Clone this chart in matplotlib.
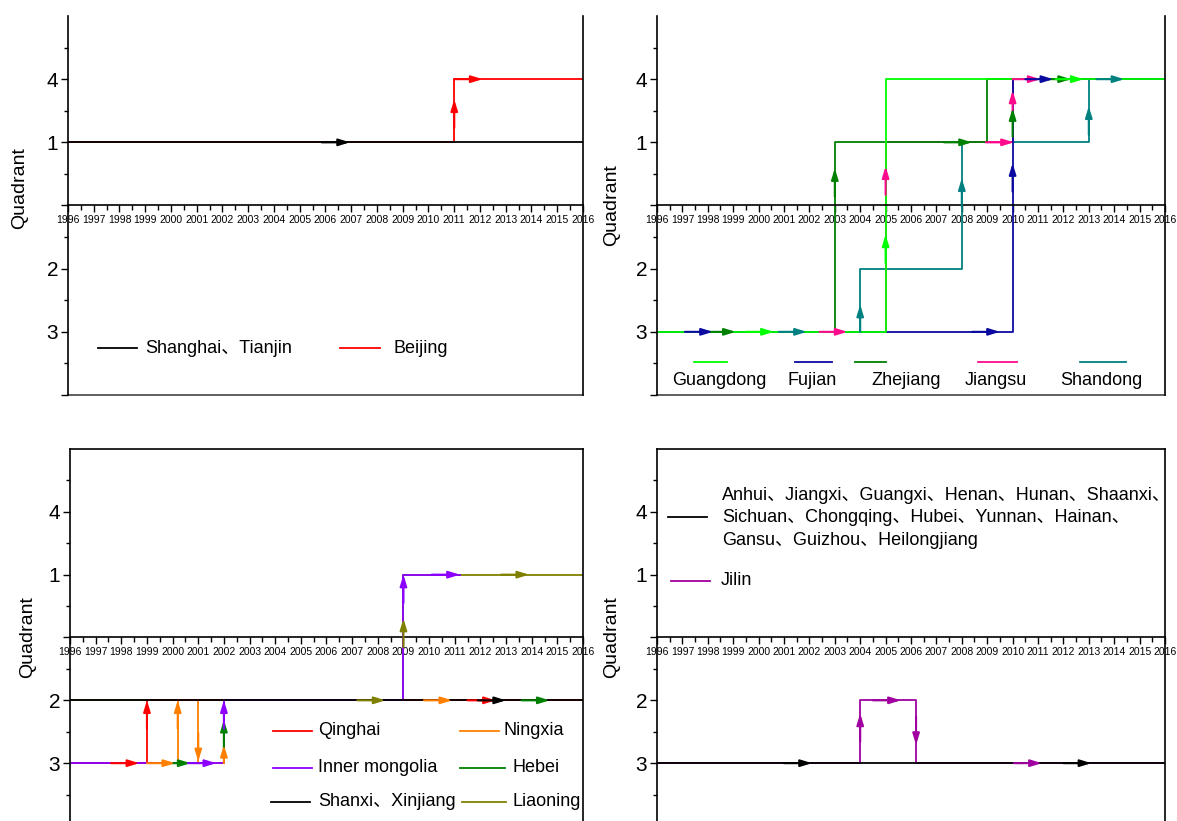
import matplotlib
matplotlib.use('Agg')
import matplotlib.pyplot as plt
from matplotlib.ticker import MultipleLocator

plt.rcParams['font.family'] = ['Liberation Sans', 'Noto Sans CJK SC', 'DejaVu Sans']

# year axis and quadrant -> vertical position on the chart
years = list(range(1996, 2017))
quad_pos = {4: 2, 1: 1, 2: -1, 3: -2}

# ---- panel 1 (top left) ----
shtj_x = [1996, 2016]
shtj_q = [1, 1]
shtj_arrows = [(2006.95, 1, 'r')]
beijing_x = [1996, 2011, 2011, 2016]
beijing_q = [1, 1, 4, 4]
beijing_arrows = [(2011, 1.68, 'u'), (2012.1, 2, 'r')]

# ---- panel 2 (top right) ----
guangdong_x = [1996, 2005, 2005, 2016]
guangdong_q = [3, 3, 4, 4]
guangdong_arrows = [(2000.6, -2, 'r'), (2005, -0.46, 'u'), (2012.8, 2, 'r')]
fujian_x = [1996, 2010, 2010, 2016]
fujian_q = [3, 3, 4, 4]
fujian_arrows = [(1998.2, -2, 'r'), (2009.5, -2, 'r'), (2010, 0.67, 'u'), (2011.6, 2, 'r')]
zhejiang_x = [1996, 2003, 2003, 2009, 2009, 2016]
zhejiang_q = [3, 3, 1, 1, 4, 4]
zhejiang_arrows = [(1999.1, -2, 'r'), (2003, 0.59, 'u'), (2008.4, 1, 'r'),
                   (2010, 1.54, 'u'), (2012.3, 2, 'r')]
jiangsu_x = [1996, 2005, 2005, 2010, 2010, 2016]
jiangsu_q = [3, 3, 1, 1, 4, 4]
jiangsu_arrows = [(2003.5, -2, 'r'), (2005, 0.62, 'u'), (2010.05, 1, 'r'),
                  (2010, 1.82, 'u'), (2011.1, 2, 'r')]
shandong_x = [1996, 2004, 2004, 2008, 2008, 2013, 2013, 2016]
shandong_q = [3, 3, 2, 2, 1, 1, 4, 4]
shandong_arrows = [(2001.9, -2, 'r'), (2004, -1.57, 'u'), (2008, 0.43, 'u'),
                   (2013, 1.57, 'u'), (2014.4, 2, 'r')]

# ---- panel 3 (bottom left) ----
qinghai_x = [1996, 1999, 1999, 2016]
qinghai_q = [3, 3, 2, 2]
qinghai_arrows = [(1998.7, -2, 'r'), (1999, -1.0, 'u'), (2012.6, -1, 'r')]
ningxia_x = [1996, 2000.2, 2000.2, 2001, 2001, 2002, 2002, 2016]
ningxia_q = [3, 3, 2, 2, 3, 3, 2, 2]
ningxia_arrows = [(2000.1, -2, 'r'), (2000.2, -1.0, 'u'), (2001, -1.97, 'd'),
                  (2002, -1.71, 'u'), (2010.9, -1, 'r')]
inner_x = [1996, 2002, 2002, 2009, 2009, 2011.2]
inner_q = [3, 3, 2, 2, 1, 1]
inner_arrows = [(2001.7, -2, 'r'), (2002, -1.0, 'u'), (2009, 1.0, 'u'), (2011.2, 1, 'r')]
hebei_x = [1996, 2002, 2002, 2016]
hebei_q = [3, 3, 2, 2]
hebei_arrows = [(2000.7, -2, 'r'), (2002, -1.31, 'u'), (2014.7, -1, 'r')]
shanxi_x = [1996, 2016]
shanxi_q = [2, 2]
shanxi_arrows = [(2013.0, -1, 'r')]
liaoning_x = [1996, 2009, 2009, 2016]
liaoning_q = [2, 2, 1, 1]
liaoning_arrows = [(2008.3, -1, 'r'), (2009, 0.3, 'u'), (2013.9, 1, 'r')]

# ---- panel 4 (bottom right) ----
others_x = [1996, 2016]
others_q = [3, 3]
others_arrows = [(2002.1, -2, 'r'), (2013.1, -2, 'r')]
jilin_x = [1996, 2004, 2004, 2006.2, 2006.2, 2016]
jilin_q = [3, 3, 2, 2, 3, 3]
jilin_arrows = [(2004, -1.21, 'u'), (2005.6, -1, 'r'), (2006.2, -1.71, 'd'), (2011.15, -2, 'r')]

others_label = ('Anhui、Jiangxi、Guangxi、Henan、Hunan、Shaanxi、\n'
                'Sichuan、Chongqing、Hubei、Yunnan、Hainan、\n'
                'Gansu、Guizhou、Heilongjiang')

W, H = 1177, 821
fig = plt.figure(figsize=(W / 100, H / 100), dpi=100)


def add_axes(x0, x1, top, bottom):
    return fig.add_axes([x0 / W, 1 - bottom / H, (x1 - x0) / W, (bottom - top) / H])


def style(ax, top_row, label_xy):
    ax.set_xlim(1996, 2016)
    ax.set_ylim(-3, 3)
    ax.spines['bottom'].set_position(('data', 0))
    ax.spines['top'].set_visible(not top_row)
    for sp in ax.spines.values():
        sp.set_linewidth(1.2)
    ax.set_xticks(years)
    ax.set_xticklabels([str(y) for y in years])
    ax.xaxis.set_minor_locator(MultipleLocator(0.5))
    ax.tick_params(axis='x', which='major', direction='out', length=5, width=1, pad=2, labelsize=7.5)
    ax.tick_params(axis='x', which='minor', direction='out', length=3.5, width=1)
    ax.set_yticks([-3, -2, -1, 0, 1, 2])
    ax.set_yticklabels(['', '3', '2', '', '1', '4'])
    ax.set_yticks([-2.5, -1.5, -0.5, 0.5, 1.5, 2.5], minor=True)
    ax.tick_params(axis='y', which='major', length=5, width=1, labelsize=15, pad=2)
    ax.tick_params(axis='y', which='minor', length=3, width=1)
    ax.set_ylabel('Quadrant', fontsize=14)
    ax.yaxis.set_label_coords(*label_xy)
    if top_row:
        ax.axhline(-3, color='#444444', lw=1.2, clip_on=False)


def path(ax, xs, qs, color):
    ax.plot(xs, [quad_pos[q] for q in qs], color=color, lw=1.3, zorder=2)


def arrows(ax, arr, color):
    for x, y, d in arr:
        if d == 'r':
            tail = (x - 1.1, y)
        elif d == 'u':
            tail = (x, max(y - 0.45, -2))
        else:
            tail = (x, min(y + 0.45, 2))
        ax.annotate('', xy=(x, y), xytext=tail, zorder=5,
                    arrowprops=dict(arrowstyle='-|>,head_length=0.55,head_width=0.17',
                                    color=color, lw=1.5, shrinkA=0, shrinkB=0,
                                    mutation_scale=12))


def legend_entry(ax, hx0, hx1, hy, color, label, tx, ty, ha='left'):
    ax.plot([hx0, hx1], [hy, hy], transform=ax.transAxes, color=color, lw=1.3, clip_on=False)
    ax.text(tx, ty, label, transform=ax.transAxes, fontsize=13, va='center', ha=ha)


ax_tl = add_axes(68, 583, 16, 395)
ax_tr = add_axes(657, 1165, 16, 395)
ax_bl = add_axes(70, 583, 449, 826)
ax_br = add_axes(657, 1165, 449, 826)

style(ax_tl, True, (-0.078, 0.546))
style(ax_tr, True, (-0.073, 0.5))
style(ax_bl, False, (-0.066, 0.5))
style(ax_br, False, (-0.073, 0.5))

# panel 1
path(ax_tl, beijing_x, beijing_q, '#FF0000')
path(ax_tl, shtj_x, shtj_q, 'black')
arrows(ax_tl, shtj_arrows, 'black')
arrows(ax_tl, beijing_arrows, '#FF0000')
legend_entry(ax_tl, 0.058, 0.134, 0.124, 'black', 'Shanghai、Tianjin', 0.150, 0.124)
legend_entry(ax_tl, 0.528, 0.606, 0.124, '#FF0000', 'Beijing', 0.633, 0.124)

# panel 2
c_gd, c_fj, c_zj, c_js, c_sd = '#00FF00', '#0A0AA0', '#008000', '#FF0A8C', '#008080'
path(ax_tr, shandong_x, shandong_q, c_sd)
path(ax_tr, jiangsu_x, jiangsu_q, c_js)
path(ax_tr, zhejiang_x, zhejiang_q, c_zj)
path(ax_tr, fujian_x, fujian_q, c_fj)
path(ax_tr, guangdong_x, guangdong_q, c_gd)
arrows(ax_tr, shandong_arrows, c_sd)
arrows(ax_tr, jiangsu_arrows, c_js)
arrows(ax_tr, zhejiang_arrows, c_zj)
arrows(ax_tr, fujian_arrows, c_fj)
arrows(ax_tr, guangdong_arrows, c_gd)
legend_entry(ax_tr, 0.073, 0.138, 0.087, c_gd, 'Guangdong', 0.123, 0.037, 'center')
legend_entry(ax_tr, 0.272, 0.344, 0.087, c_fj, 'Fujian', 0.306, 0.037, 'center')
legend_entry(ax_tr, 0.390, 0.451, 0.087, c_zj, 'Zhejiang', 0.490, 0.037, 'center')
legend_entry(ax_tr, 0.632, 0.709, 0.087, c_js, 'Jiangsu', 0.667, 0.037, 'center')
legend_entry(ax_tr, 0.833, 0.923, 0.087, c_sd, 'Shandong', 0.875, 0.037, 'center')

# panel 3
c_qh, c_nx, c_im, c_hb, c_sx, c_ln = '#FF0000', '#FF8000', '#8B00FF', '#008000', 'black', '#808000'
path(ax_bl, liaoning_x, liaoning_q, c_ln)
path(ax_bl, hebei_x, hebei_q, c_hb)
path(ax_bl, ningxia_x, ningxia_q, c_nx)
path(ax_bl, qinghai_x, qinghai_q, c_qh)
path(ax_bl, inner_x, inner_q, c_im)
path(ax_bl, shanxi_x, shanxi_q, c_sx)
arrows(ax_bl, liaoning_arrows, c_ln)
arrows(ax_bl, hebei_arrows, c_hb)
arrows(ax_bl, ningxia_arrows, c_nx)
arrows(ax_bl, qinghai_arrows, c_qh)
arrows(ax_bl, inner_arrows, c_im)
arrows(ax_bl, shanxi_arrows, c_sx)
legend_entry(ax_bl, 0.396, 0.472, 0.252, c_qh, 'Qinghai', 0.483, 0.252)
legend_entry(ax_bl, 0.760, 0.836, 0.252, c_nx, 'Ningxia', 0.846, 0.252)
legend_entry(ax_bl, 0.396, 0.472, 0.154, c_im, 'Inner mongolia', 0.483, 0.154)
legend_entry(ax_bl, 0.760, 0.848, 0.154, c_hb, 'Hebei', 0.862, 0.154)
legend_entry(ax_bl, 0.392, 0.468, 0.064, c_sx, 'Shanxi、Xinjiang', 0.483, 0.064)
legend_entry(ax_bl, 0.764, 0.850, 0.064, c_ln, 'Liaoning', 0.862, 0.064)

# panel 4
c_jl = '#A000A0'
path(ax_br, jilin_x, jilin_q, c_jl)
path(ax_br, others_x, others_q, 'black')
arrows(ax_br, jilin_arrows, c_jl)
arrows(ax_br, others_arrows, 'black')
ax_br.plot([0.022, 0.098], [0.820, 0.820], transform=ax_br.transAxes, color='black', lw=1.3)
ax_br.text(0.128, 0.817, others_label, transform=ax_br.transAxes, fontsize=13,
           va='center', ha='left', linespacing=1.4)
legend_entry(ax_br, 0.028, 0.104, 0.650, c_jl, 'Jilin', 0.126, 0.650)

fig.savefig('out.png', dpi=100)
